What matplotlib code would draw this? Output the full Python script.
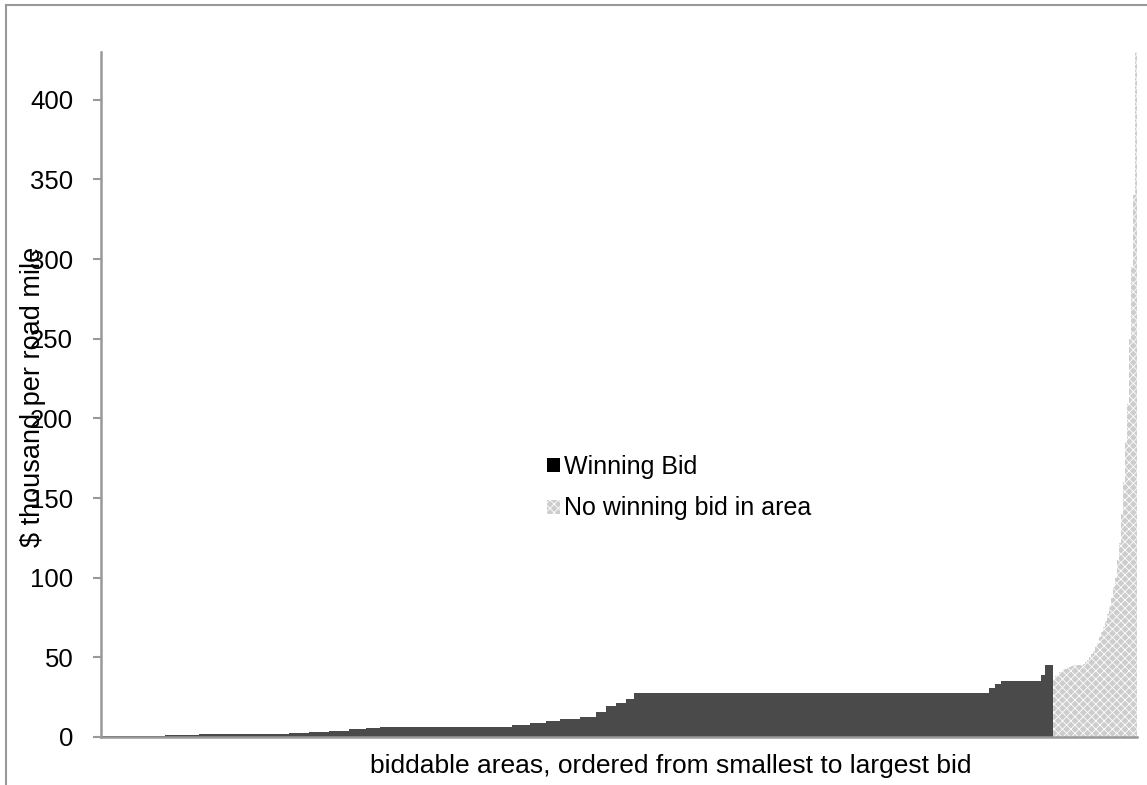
import numpy as np
import matplotlib
matplotlib.use("Agg")
import matplotlib.pyplot as plt
from matplotlib.patches import Rectangle, Patch

plt.rcParams['font.family'] = ['Liberation Sans', 'DejaVu Sans']
plt.rcParams['hatch.linewidth'] = 0.6

# winning bids (value, number of areas)
win_values = [0.4, 0.8, 1.2, 1.6, 2.0, 2.5, 3.2, 4.0, 4.8, 5.5, 6.2, 7.5, 8.8,
              10.0, 11.0, 12.5, 15.5, 19.5, 21.5, 24.0, 27.5, 31.0, 33.5, 35.0,
              39.0, 45.5]
win_counts = [17, 15, 17, 20, 25, 10, 10, 10, 8, 7, 66, 9, 8,
              7, 10, 8, 5, 5, 5, 4, 177, 3, 3, 20,
              2, 4]

# areas with no winning bid (sorted reserve values)
no_win_values = [37, 38.5, 39.5, 40.5, 41.5, 42.5, 43, 43.5, 44, 44.5, 45, 45,
                 45, 45.5, 45.5, 46, 47, 48.5, 50, 52, 54, 57, 59, 63, 66, 69,
                 73, 77, 82, 87, 94, 100, 111, 122, 140, 160, 185, 209, 250,
                 295, 340, 430]

yticks = [0, 50, 100, 150, 200, 250, 300, 350, 400]

win = np.repeat(win_values, win_counts)
no_win = np.array(no_win_values)
n_win = len(win)
n_all = n_win + len(no_win)

W, H = 1147, 785
fig = plt.figure(figsize=(W / 100, H / 100), dpi=100)
ax = fig.add_axes([101 / W, 1 - 737 / H, (1137 - 101) / W, (737 - 52) / H])

ax.bar(np.arange(n_win), win, width=1.0, color='#4a4a4a', linewidth=0)
ax.bar(np.arange(n_win, n_all), no_win, width=1.0, facecolor='#cdcdcd',
       edgecolor='white', hatch='xxxx', linewidth=0)

ax.set_xlim(-0.5, n_all - 0.5)
ax.set_ylim(0, 430)
ax.set_xticks([])
ax.set_yticks(yticks)
ax.tick_params(axis='y', direction='out', length=6, width=1.5, color='#999999',
               labelsize=18.5, pad=14)

for s in ['top', 'right']:
    ax.spines[s].set_visible(False)
for s in ['left', 'bottom']:
    ax.spines[s].set_color('#999999')
    ax.spines[s].set_linewidth(1.8)

fig.text(33 / W, 1 - 397 / H, '$ thousand per road mile', rotation=90,
         ha='center', va='center', fontsize=19.5)
fig.text(671 / W, 1 - 766 / H,
         'biddable areas, ordered from smallest to largest bid',
         ha='center', va='center', fontsize=19)

# legend: solid black square and light checker square, as in the original
handles = [Patch(facecolor='black', linewidth=0),
           Patch(facecolor='#cdcdcd', edgecolor='white', hatch='xxxx',
                 linewidth=0)]
labels = ['Winning Bid', 'No winning bid in area']
fig.legend(handles, labels, loc='upper left',
           bbox_to_anchor=(547 / W, 1 - 455 / H),
           frameon=False, fontsize=18, handlelength=0.5,
           handleheight=0.5, handletextpad=0.2, labelspacing=0.7,
           borderpad=0, borderaxespad=0)

# chart area border
fig.patches.append(Rectangle((6 / W, -0.05), 1.2, 1 - 5 / H + 0.05,
                             transform=fig.transFigure, fill=False,
                             edgecolor='#999999', linewidth=1.5))

fig.savefig('out.png', dpi=100)
